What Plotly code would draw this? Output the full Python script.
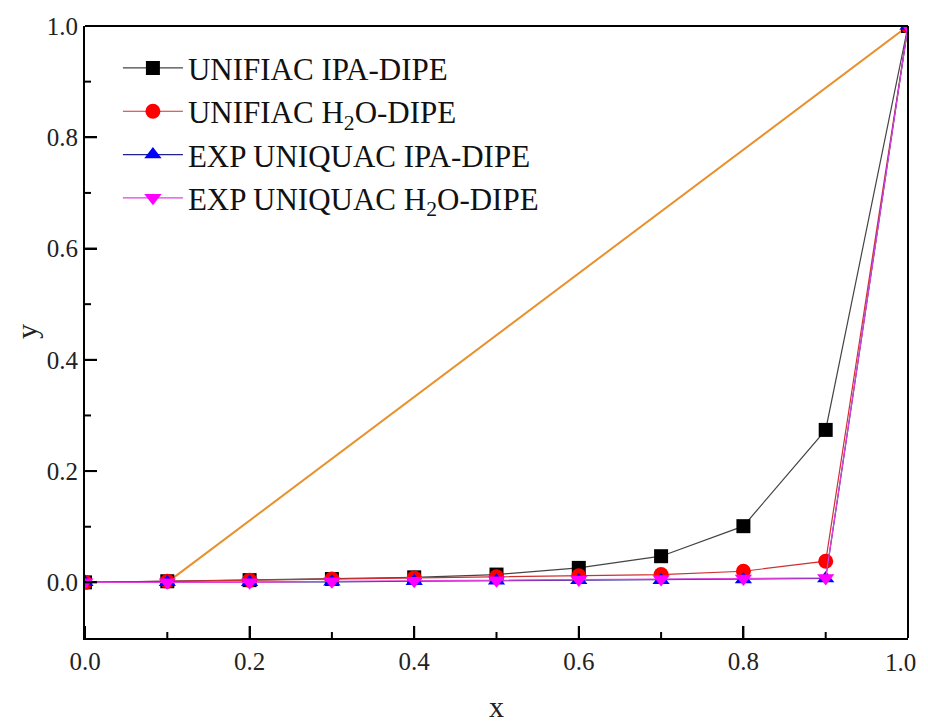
import plotly.graph_objects as go

x_vals = [0.0, 0.1, 0.2, 0.3, 0.4, 0.5, 0.6, 0.7, 0.8, 0.9, 1.0]
unifiac_ipa = [0.0, 0.002, 0.004, 0.006, 0.009, 0.014, 0.026, 0.047, 0.101, 0.274, 1.0]
unifiac_h2o = [0.0, 0.002, 0.004, 0.006, 0.008, 0.010, 0.012, 0.014, 0.020, 0.038, 1.0]
exp_ipa = [0.0, 0.0, 0.0, 0.001, 0.002, 0.003, 0.004, 0.004, 0.005, 0.007, 1.0]
exp_h2o = [0.0, 0.0, 0.0, 0.002, 0.003, 0.004, 0.005, 0.006, 0.007, 0.008, 1.0]
diag_x = [0.1, 1.0]
diag_y = [0.0, 1.0]

x_major = [0.0, 0.2, 0.4, 0.6, 0.8, 1.0]
x_minor = [0.1, 0.3, 0.5, 0.7, 0.9]
y_major = [0.0, 0.2, 0.4, 0.6, 0.8, 1.0]
y_minor = [0.1, 0.3, 0.5, 0.7, 0.9]
x_labels = ["0.0", "0.2", "0.4", "0.6", "0.8", "1.0"]
y_labels = ["0.0", "0.2", "0.4", "0.6", "0.8", "1.0"]
x_range = [0.0, 1.0]
y_range = [-0.1, 1.0]

FONT = "Liberation Serif, Times New Roman, serif"
W, H = 920, 717
M = dict(l=77, r=20, t=18, b=87)
plot_h = H - M["t"] - M["b"]

fig = go.Figure()
fig.add_trace(go.Scatter(x=diag_x, y=diag_y, mode="lines",
                         line=dict(color="#e8902c", width=2), showlegend=False))
fig.add_trace(go.Scatter(x=x_vals, y=unifiac_ipa, mode="lines+markers", name="UNIFIAC IPA-DIPE",
                         line=dict(color="#444444", width=1.2),
                         marker=dict(symbol="square", size=14, color="black")))
fig.add_trace(go.Scatter(x=x_vals, y=unifiac_h2o, mode="lines+markers", name="UNIFIAC H<sub>2</sub>O-DIPE",
                         line=dict(color="#d03030", width=1.2),
                         marker=dict(symbol="circle", size=15, color="red")))
fig.add_trace(go.Scatter(x=x_vals, y=exp_ipa, mode="lines+markers", name="EXP UNIQUAC IPA-DIPE",
                         line=dict(color="#202090", width=1.2),
                         marker=dict(symbol="triangle-up", size=15, color="blue")))
fig.add_trace(go.Scatter(x=x_vals, y=exp_h2o, mode="lines+markers", name="EXP UNIQUAC H<sub>2</sub>O-DIPE",
                         line=dict(color="#e040e0", width=1.2),
                         marker=dict(symbol="triangle-down", size=15, color="magenta")))

TICKFONT = dict(family=FONT, size=25, color="#222")
axis_common = dict(showline=True, linecolor="black", linewidth=2, mirror=False, automargin=False,
                   showgrid=False, zeroline=False, ticks="inside", ticklen=12, tickwidth=2,
                   tickcolor="black", tickfont=TICKFONT, ticklabeloverflow="allow")

# the last x label is placed as right-anchored text so it stays inside the window
x_ticktext = x_labels[:-1] + [""]
fig.update_xaxes(range=x_range, tickmode="array", tickvals=x_major, ticktext=x_ticktext,
                 **axis_common)
fig.update_yaxes(range=y_range, tickmode="array", tickvals=y_major, ticktext=y_labels,
                 **axis_common)
fig.add_annotation(text=x_labels[-1], xref="x", yref="paper", x=x_major[-1], y=0,
                   xanchor="right", yanchor="middle", xshift=10, yshift=-24,
                   showarrow=False, font=TICKFONT)

# tick marks drawn inside the frame (major 12 px, minor 6 px)
tick_line = dict(color="black", width=2)
x_span = x_range[1] - x_range[0]
for v, ln in [(t, 12) for t in x_major] + [(t, 6) for t in x_minor]:
    px = (v - x_range[0]) / x_span
    fig.add_shape(type="line", xref="paper", yref="paper",
                  x0=px, x1=px, y0=0, y1=ln / plot_h, line=tick_line)
for v, ln in [(t, 12) for t in y_major] + [(t, 6) for t in y_minor]:
    fig.add_shape(type="line", xref="x", yref="y", xsizemode="pixel", xanchor=x_range[0],
                  y0=v, y1=v, x0=0, x1=ln, line=tick_line)

# top and right border lines
fig.add_shape(type="line", xref="paper", yref="paper", x0=1, x1=1, y0=0, y1=1,
              line=dict(color="black", width=2))
fig.add_shape(type="line", xref="paper", yref="paper", x0=0, x1=1, y0=1, y1=1,
              line=dict(color="black", width=2))

# axis titles
fig.add_annotation(text="x", xref="paper", yref="paper", x=0.5, y=0, yanchor="middle",
                   yshift=-68, showarrow=False, font=dict(family=FONT, size=30, color="#222"))
fig.add_annotation(text="y", xref="paper", yref="paper", x=0, y=0.5, xanchor="center",
                   xshift=-59, textangle=-90, showarrow=False,
                   font=dict(family=FONT, size=30, color="#222"))

# page body has an 8px margin, so the figure is sized to fit the window
fig.update_layout(
    width=W, height=H, margin=M,
    plot_bgcolor="white", paper_bgcolor="white",
    font=dict(family=FONT, color="#222"),
    legend=dict(x=0.04, y=0.975, xanchor="left", yanchor="top",
                font=dict(family=FONT, size=31, color="#111"),
                bgcolor="rgba(0,0,0,0)", itemwidth=60, tracegroupgap=0),
)

fig.write_html("out.html")
